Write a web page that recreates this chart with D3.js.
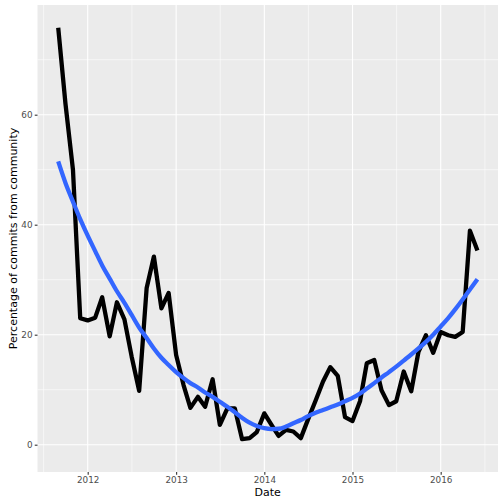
<!DOCTYPE html>
<html>
<head>
<meta charset="utf-8">
<script src="https://cdn.jsdelivr.net/npm/d3@7"></script>
<style>
  body { margin: 0; background: #fff; }
  svg { display: block; }
</style>
</head>
<body>
<svg id="chart" width="504" height="504"></svg>
<script>
// Monthly dates, Sep 2011 .. Jun 2016
const months = [
  "2011-09","2011-10","2011-11","2011-12",
  "2012-01","2012-02","2012-03","2012-04","2012-05","2012-06","2012-07","2012-08","2012-09","2012-10","2012-11","2012-12",
  "2013-01","2013-02","2013-03","2013-04","2013-05","2013-06","2013-07","2013-08","2013-09","2013-10","2013-11","2013-12",
  "2014-01","2014-02","2014-03","2014-04","2014-05","2014-06","2014-07","2014-08","2014-09","2014-10","2014-11","2014-12",
  "2015-01","2015-02","2015-03","2015-04","2015-05","2015-06","2015-07","2015-08","2015-09","2015-10","2015-11","2015-12",
  "2016-01","2016-02","2016-03","2016-04","2016-05","2016-06"
];
// Percentage of commits from community (observed)
const communityPct = [
  75.8, 62.0, 50.0, 23.0,
  22.6, 23.1, 26.8, 19.7, 25.9, 22.8, 16.0, 9.8, 28.5, 34.2, 24.8, 27.6,
  16.3, 10.8, 6.7, 8.7, 6.9, 11.9, 3.6, 6.6, 6.6, 1.0, 1.2, 2.3,
  5.7, 3.5, 1.6, 2.7, 2.4, 1.2, 4.6, 8.0, 11.5, 14.1, 12.5, 5.0,
  4.3, 7.9, 14.8, 15.4, 9.9, 7.2, 7.9, 13.3, 9.7, 16.9, 19.9, 16.7,
  20.5, 19.9, 19.6, 20.5, 38.9, 35.3
];
// Smoothed trend (loess)
const smoothPct = [
  51.5, 47.6, 44.2, 41.0,
  38.0, 35.2, 32.6, 30.2, 27.9, 25.8, 23.6, 21.3, 19.4, 17.5, 15.8, 14.5,
  13.2, 12.1, 11.2, 10.4, 9.5, 8.7, 7.8, 6.9, 5.9, 4.9, 4.0, 3.4,
  3.0, 2.85, 2.9, 3.3, 3.9, 4.5, 5.2, 5.8, 6.3, 6.8, 7.3, 7.9,
  8.5, 9.3, 10.2, 11.2, 12.2, 13.2, 14.2, 15.3, 16.4, 17.5, 18.7, 20.0,
  21.5, 23.0, 24.6, 26.4, 28.2, 30.1
];
const xTickYears = [2012, 2013, 2014, 2015, 2016];
const xMinorYears = [2011.5, 2012.5, 2013.5, 2014.5, 2015.5, 2016.5];
const yTicks = [0, 20, 40, 60];
const yMinor = [10, 30, 50, 70];

const parse = d3.timeParse("%Y-%m");
const dates = months.map(parse);
const obs = dates.map((d, i) => ({ d, v: communityPct[i] }));
const sm = dates.map((d, i) => ({ d, v: smoothPct[i] }));

const panel = { left: 37.5, right: 498, top: 5, bottom: 472 };

// x: 2012-01-01 -> 87.7, 2016-01-01 -> 440.7
const x0 = new Date(2012, 0, 1), x1 = new Date(2016, 0, 1);
const pxPerMs = (440.7 - 87.7) / (x1 - x0);
const xScale = d3.scaleTime()
  .domain([new Date(+x0 - (87.7 - panel.left) / pxPerMs), new Date(+x0 + (panel.right - 87.7) / pxPerMs)])
  .range([panel.left, panel.right]);

// y: 0 -> 444.7, 60 -> 114.7
const pxPerUnit = (444.7 - 114.7) / 60;
const yScale = d3.scaleLinear()
  .domain([(444.7 - panel.bottom) / pxPerUnit, (444.7 - panel.top) / pxPerUnit])
  .range([panel.bottom, panel.top]);

function yearDate(y) {
  const yr = Math.floor(y);
  const frac = y - yr;
  const a = new Date(yr, 0, 1), b = new Date(yr + 1, 0, 1);
  return new Date(+a + frac * (b - a));
}

const svg = d3.select("#chart");
svg.append("rect").attr("width", 504).attr("height", 504).attr("fill", "#fff");

svg.append("rect")
  .attr("x", panel.left).attr("y", panel.top)
  .attr("width", panel.right - panel.left).attr("height", panel.bottom - panel.top)
  .attr("fill", "#EBEBEB");

const grid = svg.append("g");
// minor grid
grid.selectAll(".xm").data(xMinorYears).join("line")
  .attr("x1", d => xScale(yearDate(d))).attr("x2", d => xScale(yearDate(d)))
  .attr("y1", panel.top).attr("y2", panel.bottom)
  .attr("stroke", "#fff").attr("stroke-width", 0.55);
grid.selectAll(".ym").data(yMinor).join("line")
  .attr("y1", d => yScale(d)).attr("y2", d => yScale(d))
  .attr("x1", panel.left).attr("x2", panel.right)
  .attr("stroke", "#fff").attr("stroke-width", 0.55);
// major grid
grid.selectAll(".xM").data(xTickYears).join("line")
  .attr("x1", d => xScale(yearDate(d))).attr("x2", d => xScale(yearDate(d)))
  .attr("y1", panel.top).attr("y2", panel.bottom)
  .attr("stroke", "#fff").attr("stroke-width", 1.1);
grid.selectAll(".yM").data(yTicks).join("line")
  .attr("y1", d => yScale(d)).attr("y2", d => yScale(d))
  .attr("x1", panel.left).attr("x2", panel.right)
  .attr("stroke", "#fff").attr("stroke-width", 1.1);

// clip
svg.append("clipPath").attr("id", "clip").append("rect")
  .attr("x", panel.left).attr("y", panel.top)
  .attr("width", panel.right - panel.left).attr("height", panel.bottom - panel.top);

const line = d3.line().x(d => xScale(d.d)).y(d => yScale(d.v));

svg.append("path").datum(obs)
  .attr("clip-path", "url(#clip)")
  .attr("d", line)
  .attr("fill", "none").attr("stroke", "#000").attr("stroke-width", 4.3)
  .attr("stroke-linejoin", "round").attr("stroke-linecap", "butt");

svg.append("path").datum(sm)
  .attr("clip-path", "url(#clip)")
  .attr("d", d3.line().curve(d3.curveMonotoneX).x(d => xScale(d.d)).y(d => yScale(d.v)))
  .attr("fill", "none").attr("stroke", "#3366FF").attr("stroke-width", 4.3)
  .attr("stroke-linecap", "butt");

// axes
const font = "DejaVu Sans, Liberation Sans, sans-serif";
const xAxis = d3.axisBottom(xScale)
  .tickValues(xTickYears.map(yearDate))
  .tickFormat(d3.timeFormat("%Y"))
  .tickSize(2.75).tickPadding(2.2);
const gx = svg.append("g").attr("transform", `translate(0,${panel.bottom})`).call(xAxis);
gx.select(".domain").remove();
gx.selectAll(".tick line").attr("stroke", "#333333").attr("stroke-width", 1.1);
gx.selectAll(".tick text").attr("fill", "#4D4D4D").attr("font-size", "8.8px").attr("font-family", font);

const yAxis = d3.axisLeft(yScale).tickValues(yTicks).tickSize(2.75).tickPadding(2.2);
const gy = svg.append("g").attr("transform", `translate(${panel.left},0)`).call(yAxis);
gy.select(".domain").remove();
gy.selectAll(".tick line").attr("stroke", "#333333").attr("stroke-width", 1.1);
gy.selectAll(".tick text").attr("fill", "#4D4D4D").attr("font-size", "8.8px").attr("font-family", font);

svg.append("text")
  .attr("x", (panel.left + panel.right) / 2).attr("y", 496)
  .attr("text-anchor", "middle").attr("font-size", "11px").attr("font-family", font)
  .attr("fill", "#000").text("Date");

svg.append("text")
  .attr("transform", `translate(16.5,${(panel.top + panel.bottom) / 2}) rotate(-90)`)
  .attr("text-anchor", "middle").attr("font-size", "11px").attr("font-family", font)
  .attr("fill", "#000").text("Percentage of commits from community");
</script>
</body>
</html>
